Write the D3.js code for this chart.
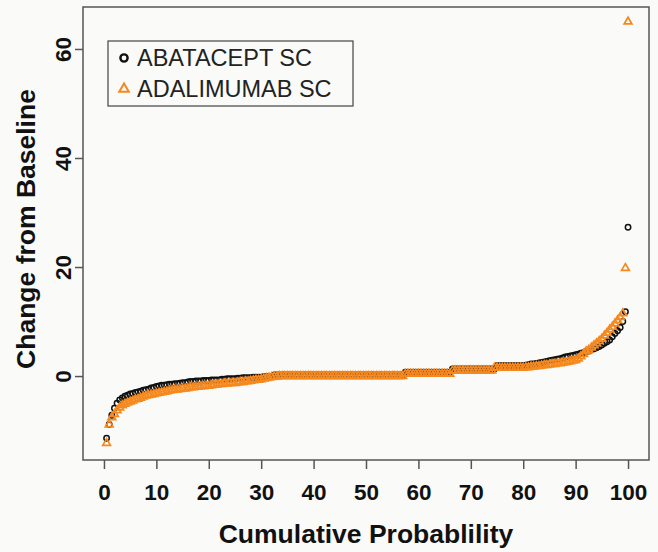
<!DOCTYPE html>
<html><head><meta charset="utf-8">
<script src="https://cdn.jsdelivr.net/npm/d3@7"></script>
<style>
html,body{margin:0;padding:0;background:#fafaf8;}
svg{display:block;font-family:"Liberation Sans",Arial,Helvetica,sans-serif;}
</style></head>
<body>
<svg id="chart" width="658" height="552"></svg>
<script>
const seriesNames = ["ABATACEPT SC", "ADALIMUMAB SC"];
const xTicks = [0,10,20,30,40,50,60,70,80,90,100];
const yTicks = [0,20,40,60];
const xTitle = "Cumulative Probablility";
const yTitle = "Change from Baseline";

// sorted change-from-baseline values, abatacept SC
const abataceptValues = [
-11.4,-8.9,-7.2,-5.9,-5.0,-4.4,-4.0,-3.7,-3.5,-3.3,
-3.2,-3.0,-2.9,-2.8,-2.6,-2.5,-2.4,-2.2,-2.1,-1.9,
-1.8,-1.7,-1.7,-1.6,-1.5,-1.5,-1.4,-1.4,-1.3,-1.2,
-1.2,-1.1,-1.0,-1.0,-0.9,-0.9,-0.9,-0.8,-0.8,-0.8,
-0.7,-0.7,-0.7,-0.7,-0.6,-0.6,-0.5,-0.5,-0.5,-0.5,
-0.4,-0.4,-0.3,-0.3,-0.3,-0.3,-0.2,-0.2,-0.2,-0.2,
-0.1,-0.1,-0.1,-0.1,0.2,0.2,0.2,0.2,0.2,0.2,
0.2,0.2,0.2,0.2,0.2,0.2,0.2,0.2,0.2,0.2,
0.2,0.2,0.2,0.2,0.2,0.2,0.2,0.2,0.2,0.2,
0.2,0.2,0.2,0.2,0.2,0.2,0.2,0.2,0.2,0.2,
0.2,0.2,0.2,0.2,0.2,0.2,0.2,0.2,0.2,0.2,
0.2,0.2,0.2,0.2,0.7,0.7,0.7,0.7,0.7,0.7,
0.7,0.7,0.7,0.7,0.7,0.7,0.7,0.7,0.7,0.7,
0.7,0.7,1.3,1.3,1.3,1.3,1.3,1.3,1.3,1.3,
1.3,1.3,1.3,1.3,1.3,1.3,1.3,1.3,1.3,1.9,
1.9,1.9,1.9,1.9,1.9,1.9,1.9,1.9,1.9,1.9,
2.0,2.1,2.2,2.2,2.3,2.4,2.5,2.6,
2.7,2.8,2.9,3.0,3.1,3.2,3.3,3.5,
3.6,3.7,3.8,3.9,4.0,4.2,
4.3,4.5,4.6,4.8,
5.0,5.2,5.4,5.7,
6.0,6.3,6.6,
7.2,7.8,
8.3,8.9,
10.0,11.8,27.3
];

// sorted change-from-baseline values, adalimumab SC
const adalimumabValues = [
-12.3,-8.9,-7.6,-7.0,-6.3,-5.8,-5.4,-5.1,-4.9,-4.7,
-4.5,-4.3,-4.2,-4.0,-3.8,-3.6,-3.5,-3.4,-3.3,-3.2,
-3.1,-3.0,-2.9,-2.8,-2.7,-2.6,-2.5,-2.5,-2.4,-2.3,
-2.3,-2.2,-2.1,-2.1,-2.0,-2.0,-1.9,-1.9,-1.8,-1.8,
-1.7,-1.6,-1.6,-1.5,-1.5,-1.4,-1.4,-1.3,-1.3,-1.3,
-1.2,-1.1,-1.1,-1.0,-1.0,-0.9,-0.8,-0.7,-0.7,-0.6,
-0.5,-0.4,-0.3,-0.2,-0.1,-0.1,0,0,
0,0,0,0,0,0,0,0,0,0,
0,0,0,0,0,0,0,0,0,0,
0,0,0,0,0,0,0,0,0,0,
0,0,0,0,0,0,0,0,0,0,
0,0,0,0,0,0,
0.4,0.4,0.4,0.4,0.4,0.4,0.4,0.4,0.4,
0.4,0.4,0.4,0.4,0.4,0.4,0.4,0.4,0.4,
1.0,1.0,1.0,1.0,1.0,1.0,1.0,1.0,
1.0,1.0,1.0,1.0,1.0,1.0,1.0,1.0,
1.5,1.5,1.5,1.5,1.5,1.5,1.5,1.5,1.5,1.5,1.5,1.5,
1.6,1.6,1.7,1.7,1.8,1.8,1.9,2.0,2.0,2.1,
2.2,2.2,2.3,2.3,2.4,2.5,2.6,2.7,2.8,2.9,
3.2,3.6,4.0,4.5,
4.8,5.2,5.6,6.0,6.4,6.8,
7.4,7.9,8.5,9.0,9.6,10.2,10.8,
11.5,19.8,65.0
];

const colors = ["#111111", "#f5891f"];

const svg = d3.select("#chart");
const frame = {left: 83, right: 649, top: 7, bottom: 460};

const x = d3.scaleLinear().domain([-4, 104]).range([frame.left, frame.right]);
const y = d3.scaleLinear().domain([-15.4, 67.7]).range([frame.bottom, frame.top]);

function toPoints(vals) {
  const n = vals.length;
  return vals.map((v, i) => ({p: (i + 1) / n * 100, v}));
}
const ptsA = toPoints(abataceptValues);
const ptsB = toPoints(adalimumabValues);

// points: abatacept circles
svg.append("g").selectAll("circle").data(ptsA).join("circle")
  .attr("cx", d => x(d.p)).attr("cy", d => y(d.v)).attr("r", 2.7)
  .attr("fill", "none").attr("stroke", colors[0]).attr("stroke-width", 1.5);

// adalimumab triangles
const tri = d3.symbol().type(d3.symbolTriangle).size(26);
svg.append("g").selectAll("path").data(ptsB).join("path")
  .attr("d", tri)
  .attr("transform", d => `translate(${x(d.p)},${y(d.v)})`)
  .attr("fill", "none").attr("stroke", colors[1]).attr("stroke-width", 1.7);

// frame
svg.append("rect").attr("x", frame.left).attr("y", frame.top)
  .attr("width", frame.right - frame.left).attr("height", frame.bottom - frame.top)
  .attr("fill", "none").attr("stroke", "#555").attr("stroke-width", 1.5);

// x axis
const gx = svg.append("g").attr("transform", `translate(0,${frame.bottom})`)
  .call(d3.axisBottom(x).tickValues(xTicks).tickSize(9).tickFormat(d3.format("d")));
gx.select(".domain").remove();
gx.selectAll(".tick line").attr("stroke", "#555").attr("stroke-width", 1.5);
gx.selectAll(".tick text").attr("y", 40).attr("dy", 0)
  .attr("font-size", 22.5).attr("font-weight", "bold").attr("fill", "#111")
  .attr("font-family", "Liberation Sans, Arial, sans-serif");

// y axis
const gy = svg.append("g").attr("transform", `translate(${frame.left},0)`)
  .call(d3.axisLeft(y).tickValues(yTicks).tickSize(8).tickFormat(d3.format("d")));
gy.select(".domain").remove();
gy.selectAll(".tick line").attr("stroke", "#555").attr("stroke-width", 1.5);
gy.selectAll(".tick text")
  .attr("transform", "rotate(-90)").attr("x", 0).attr("y", -12).attr("dy", 0)
  .attr("text-anchor", "middle")
  .attr("font-size", 22.5).attr("font-weight", "bold").attr("fill", "#111")
  .attr("font-family", "Liberation Sans, Arial, sans-serif");

// axis titles
svg.append("text").attr("x", (frame.left + frame.right) / 2).attr("y", 543)
  .attr("text-anchor", "middle").attr("font-size", 26.5).attr("font-weight", "bold")
  .attr("fill", "#111").text(xTitle);
svg.append("text")
  .attr("transform", `translate(35,229) rotate(-90)`)
  .attr("text-anchor", "middle").attr("font-size", 26.5).attr("font-weight", "bold")
  .attr("fill", "#111").text(yTitle);

// legend
const lg = svg.append("g");
lg.append("rect").attr("x", 108).attr("y", 41).attr("width", 245).attr("height", 65)
  .attr("fill", "#fafaf8").attr("stroke", "#444").attr("stroke-width", 1.2);
lg.append("circle").attr("cx", 124).attr("cy", 58).attr("r", 3.6)
  .attr("fill", "none").attr("stroke", colors[0]).attr("stroke-width", 2.4);
lg.append("path").attr("d", d3.symbol().type(d3.symbolTriangle).size(40))
  .attr("transform", "translate(124,89)")
  .attr("fill", "none").attr("stroke", colors[1]).attr("stroke-width", 2);
seriesNames.forEach((s, i) => {
  lg.append("text").attr("x", 137).attr("y", 66 + i * 31)
    .attr("font-size", 23.5).attr("fill", "#222").text(s);
});
</script>
</body></html>
